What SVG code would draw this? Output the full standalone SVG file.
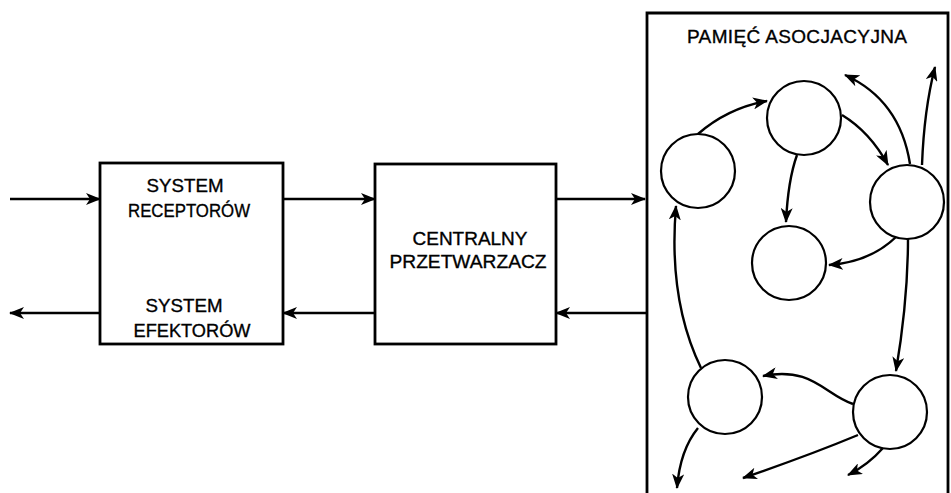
<svg xmlns="http://www.w3.org/2000/svg" width="951" height="493" viewBox="0 0 951 493">
<style>
.box{fill:#fff;stroke:#000;stroke-width:2.8}
.node{fill:#fff;stroke:#000;stroke-width:2.2}
.c{fill:none;stroke:#000;stroke-width:2.4;marker-end:url(#ah)}
text{font-family:"Liberation Sans",Arial,sans-serif;font-size:19px;fill:#000;stroke:#000;stroke-width:0.35}
</style>
<defs>
<marker id="ah" markerUnits="userSpaceOnUse" markerWidth="16" markerHeight="12" refX="14" refY="6" orient="auto">
<path d="M0,0 L15,6 L0,12 L4,6 Z" fill="#000"/>
</marker>
</defs>
<rect width="951" height="493" fill="#fff"/>
<g id="receptors-effectors">
<rect class="box" x="100" y="163" width="183" height="181"/>
<text x="185" y="192" text-anchor="middle" textLength="77" lengthAdjust="spacingAndGlyphs">SYSTEM</text>
<text x="189" y="217" text-anchor="middle" textLength="122" lengthAdjust="spacingAndGlyphs">RECEPTORÓW</text>
<text x="184" y="312" text-anchor="middle" textLength="77" lengthAdjust="spacingAndGlyphs">SYSTEM</text>
<text x="192" y="337" text-anchor="middle" textLength="117" lengthAdjust="spacingAndGlyphs">EFEKTORÓW</text>
</g>
<g id="central-processor">
<rect class="box" x="375" y="164" width="181" height="180"/>
<text x="470" y="245" text-anchor="middle" textLength="115" lengthAdjust="spacingAndGlyphs">CENTRALNY</text>
<text x="468" y="268" text-anchor="middle" textLength="157" lengthAdjust="spacingAndGlyphs">PRZETWARZACZ</text>
</g>
<g id="associative-memory">
<path class="box" d="M647,495 L647,13 L948,13 L948,495" fill="#fff"/>
<text x="797" y="43" text-anchor="middle" textLength="220" lengthAdjust="spacing">PAMIĘĆ ASOCJACYJNA</text>
</g>
<g id="m1"><circle class="node" cx="804" cy="118" r="37"/></g>
<g id="m2"><circle class="node" cx="698" cy="171" r="37"/></g>
<g id="m3"><circle class="node" cx="907" cy="202" r="37"/></g>
<g id="m4"><circle class="node" cx="789" cy="263" r="37"/></g>
<g id="m5"><circle class="node" cx="725" cy="397" r="37"/></g>
<g id="m6"><circle class="node" cx="890" cy="412" r="37"/></g>
<g id="connectors">
<path class="c" d="M10,199 L100,199"/>
<path class="c" d="M283,199 L375,199"/>
<path class="c" d="M556,199 L645,199"/>
<path class="c" d="M647,313 L556,313"/>
<path class="c" d="M375,313 L283,313"/>
<path class="c" d="M100,313 L10,313"/>
<path class="c" d="M698,134 Q728,108 767,101"/>
<path class="c" d="M842,115 Q870,132 888,165"/>
<path class="c" d="M797,155 Q788,180 786,222"/>
<path class="c" d="M910,164 Q900,100 845,75"/>
<path class="c" d="M922,165 Q924,110 935,67"/>
<path class="c" d="M896,237 Q870,262 829,265"/>
<path class="c" d="M908,238 Q908,300 896,371"/>
<path class="c" d="M701,368 Q668,300 676,206"/>
<path class="c" d="M853,404 C825,395 812,366 763,376"/>
<path class="c" d="M698,428 Q680,450 677,488"/>
<path class="c" d="M858,435 Q810,455 743,478"/>
<path class="c" d="M883,448 Q868,465 848,475"/>
</g>
</svg>
